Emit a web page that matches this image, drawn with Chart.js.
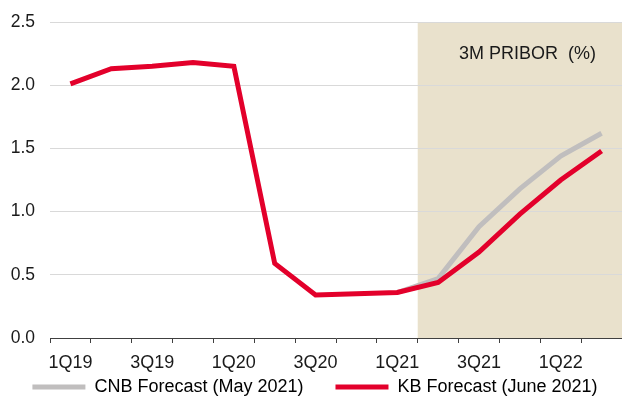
<!DOCTYPE html>
<html>
<head>
<meta charset="utf-8">
<script src="https://cdn.jsdelivr.net/npm/chart.js@4/dist/chart.umd.min.js"></script>
<style>
  html, body { margin: 0; padding: 0; background: #fff; }
  #wrap { width: 622px; height: 396px; }
</style>
</head>
<body>
<div id="wrap"><canvas id="c"></canvas></div>
<script>
// Quarterly periods on the x axis
const quarters = ['1Q19','2Q19','3Q19','4Q19','1Q20','2Q20','3Q20','4Q20',
                  '1Q21','2Q21','3Q21','4Q21','1Q22','2Q22'];
// 3M PRIBOR path (%), CNB forecast (May 2021)
const cnbForecast = [null,null,null,null,null,null,null,null,
                     0.36,0.47,0.88,1.18,1.44,1.62];
// 3M PRIBOR path (%), KB forecast (June 2021)
const kbForecast = [2.01,2.13,2.15,2.18,2.15,0.59,0.34,0.35,
                    0.36,0.44,0.68,0.98,1.25,1.48];
// First forecast quarter (start of the shaded area)
const forecastStart = '2Q21';
const panelTitle = '3M PRIBOR  (%)';
const seriesNames = ['CNB Forecast (May 2021)', 'KB Forecast (June 2021)'];

const FONT = '"Liberation Sans", Arial, sans-serif';

// Shaded forecast band, painted before the grid so grid lines stay visible
const forecastBand = {
  id: 'forecastBand',
  beforeDraw(chart) {
    const { ctx, chartArea, scales } = chart;
    const x = scales.x;
    const i = quarters.indexOf(forecastStart);
    const half = (x.getPixelForValue(1) - x.getPixelForValue(0)) / 2;
    const left = x.getPixelForValue(i) - half;
    ctx.save();
    ctx.fillStyle = '#e9e1cc';
    ctx.fillRect(left, chartArea.top, chartArea.right - left, chartArea.bottom - chartArea.top);
    ctx.restore();
  },
  afterDatasetsDraw(chart) {
    const { ctx, chartArea } = chart;
    ctx.save();
    ctx.font = '18px ' + FONT;
    ctx.fillStyle = '#1a1a1a';
    ctx.textAlign = 'right';
    ctx.textBaseline = 'middle';
    ctx.fillText(panelTitle, chartArea.right - 26, chartArea.top + 32);
    ctx.restore();
  }
};

new Chart(document.getElementById('c'), {
  type: 'line',
  data: {
    labels: quarters,
    datasets: [
      {
        label: seriesNames[0],
        data: cnbForecast,
        borderColor: '#c0bebe',
        backgroundColor: '#c0bebe',
        borderWidth: 5,
        pointRadius: 0,
        tension: 0,
        order: 2
      },
      {
        label: seriesNames[1],
        data: kbForecast,
        borderColor: '#e3002b',
        backgroundColor: '#e3002b',
        borderWidth: 5,
        pointRadius: 0,
        tension: 0,
        order: 1
      }
    ]
  },
  options: {
    responsive: true,
    maintainAspectRatio: false,
    animation: false,
    layout: { padding: { top: 0, right: 0, left: 8, bottom: -10 } },
    plugins: {
      tooltip: { enabled: false },
      legend: {
        position: 'bottom',
        labels: {
          color: '#1a1a1a',
          font: { family: FONT, size: 18 },
          boxWidth: 53,
          boxHeight: 5,
          padding: 2,
          generateLabels(chart) {
            return chart.data.datasets.map((ds, i) => ({
              text: i === 0 ? ds.label + '      ' : ds.label,
              fillStyle: ds.borderColor,
              strokeStyle: ds.borderColor,
              lineWidth: 0,
              datasetIndex: i,
              hidden: false
            }));
          }
        }
      }
    },
    scales: {
      x: {
        offset: true,
        afterFit(scale) { scale.height -= 7; },
        grid: {
          offset: true,
          drawOnChartArea: false,
          drawTicks: true,
          tickLength: 5,
          color: '#404040'
        },
        border: { display: true, color: '#404040', width: 1 },
        ticks: {
          autoSkip: false,
          maxRotation: 0,
          padding: 11,
          color: '#1a1a1a',
          font: { family: FONT, size: 18, lineHeight: 1 },
          callback(value, index) { return index % 2 === 0 ? quarters[index] : ''; }
        }
      },
      y: {
        min: 0,
        max: 2.5,
        afterFit(scale) { scale.width = 42; },
        ticks: {
          stepSize: 0.5,
          padding: 15,
          color: '#1a1a1a',
          font: { family: FONT, size: 17.5, lineHeight: 0.8 },
          callback(v) { return v.toFixed(1); }
        },
        grid: { color: '#d9d9d9', lineWidth: 1, drawTicks: false },
        border: { display: false }
      }
    }
  },
  plugins: [forecastBand]
});
</script>
</body>
</html>
